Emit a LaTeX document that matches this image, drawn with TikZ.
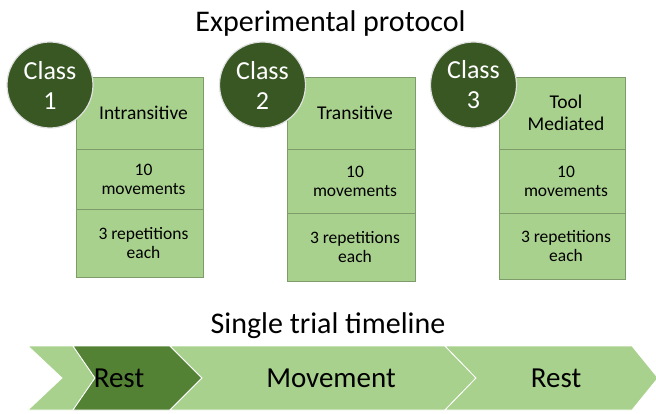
\documentclass[tikz,border=0pt]{standalone}
\usepackage{fontspec}
\setmainfont{Carlito}

\definecolor{cellgreen}{HTML}{A9D18E}
\definecolor{celledge}{HTML}{7E9C6A}
\definecolor{badgegreen}{HTML}{385723}
\definecolor{darkchev}{HTML}{548235}

% one cell of a class column: name, left, top, right, bottom, text style, text
\newcommand{\protocolcell}[7]{%
  \draw[cell] (#2,#3) rectangle (#4,#5);
  \node[#6] (#1) at ({(#2+#4)/2+4},{(#3+#5)/2}) {#7};}

\begin{document}
\begin{tikzpicture}[x=1pt,y=-1pt,
  cell/.style={draw=celledge, fill=cellgreen, line width=0.9pt},
  headtext/.style={align=center, inner sep=0pt, font=\fontsize{19.5}{22}\selectfont},
  celltext/.style={align=center, inner sep=0pt, font=\fontsize{17.5}{19}\selectfont},
  badge/.style={circle, fill=badgegreen, draw=white!88!black, line width=1.2pt,
    minimum size=86pt, inner sep=0pt, text=white, align=center,
    font=\fontsize{26}{30}\selectfont},
  chev/.style={fill=cellgreen, draw=white, line width=0.8pt, line join=miter},
  heading/.style={anchor=base, inner sep=0pt, font=\fontsize{30}{36}\selectfont},
  chevtext/.style={anchor=base, inner sep=0pt, font=\fontsize{29}{34}\selectfont}]

\useasboundingbox (0,0) rectangle (656,414);

% headings
\node[heading] (title) at (330.5,32) {Experimental protocol};
\node[heading] (subtitle) at (328,333) {Single trial timeline};

% class 1 column
\protocolcell{c1a}{76}{77}{203}{149}{headtext}{Intransitive}
\protocolcell{c1b}{76}{149}{203}{209}{celltext}{10\\movements}
\protocolcell{c1c}{76}{209}{203}{277}{celltext}{3 repetitions\\each}

% class 2 column
\protocolcell{c2a}{287}{77}{415}{149}{headtext}{Transitive}
\protocolcell{c2b}{287}{149}{415}{213}{celltext}{10\\movements}
\protocolcell{c2c}{287}{213}{415}{281}{celltext}{3 repetitions\\each}

% class 3 column
\protocolcell{c3a}{499}{77}{625}{149}{headtext}{Tool\\Mediated}
\protocolcell{c3b}{499}{149}{625}{213}{celltext}{10\\movements}
\protocolcell{c3c}{499}{213}{625}{279}{celltext}{3 repetitions\\each}

% class badges
\node[badge] (k1) at (50,85) {Class\\1};
\node[badge] (k2) at (262.5,85) {Class\\2};
\node[badge] (k3) at (473.5,85) {Class\\3};

% timeline chevrons
\begin{scope}
  \clip (0,0) rectangle (656,414);
  \path[chev] (28,346) -- (73,346) -- (95,378) -- (73,410) -- (28,410) -- (62,378) -- cycle;
  \path[chev, fill=darkchev] (73,346) -- (170,346) -- (202,378) -- (170,410) -- (73,410) -- (95,378) -- cycle;
  \path[chev] (170,346) -- (445,346) -- (476,378) -- (445,410) -- (170,410) -- (202,378) -- cycle;
  \path[chev] (445,346) -- (632,346) -- (658,378) -- (632,410) -- (445,410) -- (476,378) -- cycle;
\end{scope}

\node[chevtext] (rest1) at (119,387) {Rest};
\node[chevtext] (move) at (331,387) {Movement};
\node[chevtext] (rest2) at (556,387) {Rest};

\end{tikzpicture}
\end{document}
